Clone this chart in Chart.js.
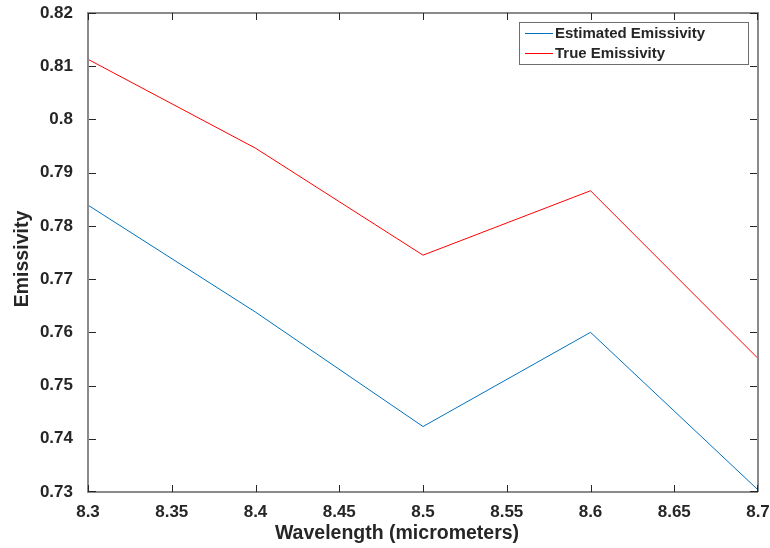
<!DOCTYPE html>
<html>
<head>
<meta charset="utf-8">
<script src="https://cdn.jsdelivr.net/npm/chart.js@4/dist/chart.umd.min.js"></script>
<style>
    html, body { margin: 0; padding: 0; background: #fff; }
    #wrap { width: 770px; height: 548px; }
</style>
</head>
<body>
<div id="wrap"><canvas id="emisChart" width="770" height="548"></canvas></div>
<script>
// wavelengths (micrometers) and emissivity values
const wavelengths = [8.3, 8.4, 8.5, 8.6, 8.7];
const estimatedEmissivity = [0.7839, 0.7638, 0.7423, 0.7600, 0.7304];
const trueEmissivity = [0.8113, 0.7946, 0.7745, 0.7866, 0.7551];
const seriesLabels = ['Estimated Emissivity', 'True Emissivity'];
const seriesColors = ['#0072BD', '#FF0000'];
const xTicks = [8.3, 8.35, 8.4, 8.45, 8.5, 8.55, 8.6, 8.65, 8.7];
const yTicks = [0.73, 0.74, 0.75, 0.76, 0.77, 0.78, 0.79, 0.8, 0.81, 0.82];
const xTitle = 'Wavelength (micrometers)';
const yTitle = 'Emissivity';

const FONT = 'Liberation Sans, Arial, Helvetica, sans-serif';
const AXIS_COLOR = '#8a8a8a';
const TICK_COLOR = '#262626';
const TEXT_COLOR = '#262626';

const toPoints = (vals) => wavelengths.map((w, i) => ({ x: w, y: vals[i] }));

// box around the axes plus inward tick marks (MATLAB style)
const axesBox = {
    id: 'axesBox',
    afterDatasetsDraw(chart) {
        const { ctx, chartArea: a, scales } = chart;
        const tl = 7;
        const L = Math.round(a.left), R = Math.round(a.right);
        const T = Math.round(a.top), B = Math.round(a.bottom);
        ctx.save();
        ctx.fillStyle = AXIS_COLOR;
        ctx.fillRect(L - 1, T - 1, R - L + 1, 2);
        ctx.fillRect(L - 1, B - 1, R - L + 1, 2);
        ctx.fillRect(L - 1, T - 1, 2, B - T + 1);
        ctx.fillRect(R - 1, T - 1, 2, B - T + 1);
        ctx.fillStyle = TICK_COLOR;
        xTicks.forEach(v => {
            const x = Math.min(Math.round(scales.x.getPixelForValue(v)), R - 1);
            ctx.fillRect(x, B - tl, 1, tl);
            ctx.fillRect(x, T, 1, tl);
        });
        yTicks.forEach(v => {
            const y = Math.min(Math.max(Math.round(scales.y.getPixelForValue(v)), T), B - 1);
            ctx.fillRect(L + 1, y, tl, 1);
            ctx.fillRect(R - 1 - tl, y, tl, 1);
        });
        ctx.restore();
    }
};

// axis titles, placed where the reference has them
const axisTitles = {
    id: 'axisTitles',
    afterDraw(chart) {
        const { ctx } = chart;
        ctx.save();
        ctx.fillStyle = TEXT_COLOR;
        ctx.font = 'bold 19.5px ' + FONT;
        ctx.textAlign = 'center';
        ctx.textBaseline = 'alphabetic';
        ctx.fillText(xTitle, 397, 539);
        ctx.translate(28, 259);
        ctx.rotate(-Math.PI / 2);
        ctx.fillText(yTitle, 0, 0);
        ctx.restore();
    }
};

// legend box in the upper right corner
const boxLegend = {
    id: 'boxLegend',
    afterDraw(chart) {
        const { ctx } = chart;
        const x0 = 519, y0 = 22, w = 229, h = 42;
        ctx.save();
        ctx.fillStyle = '#fff';
        ctx.fillRect(x0, y0, w, h);
        ctx.fillStyle = '#6e6e6e';
        ctx.fillRect(x0, y0, w, 1);
        ctx.fillRect(x0, y0 + h, w + 1, 1);
        ctx.fillRect(x0, y0, 1, h);
        ctx.fillRect(x0 + w, y0, 1, h);
        ctx.font = 'bold 15px ' + FONT;
        ctx.textBaseline = 'middle';
        seriesLabels.forEach((label, i) => {
            const y = y0 + 11 + i * 20;
            ctx.fillStyle = seriesColors[i];
            ctx.fillRect(x0 + 6, y, 28, 1);
            ctx.fillStyle = TEXT_COLOR;
            ctx.fillText(label, x0 + 36, y + 1);
        });
        ctx.restore();
    }
};

new Chart(document.getElementById('emisChart').getContext('2d'), {
    type: 'line',
    data: {
        datasets: [
            {
                label: seriesLabels[0],
                data: toPoints(estimatedEmissivity),
                borderColor: seriesColors[0],
                borderWidth: 1,
                pointRadius: 0,
                tension: 0
            },
            {
                label: seriesLabels[1],
                data: toPoints(trueEmissivity),
                borderColor: seriesColors[1],
                borderWidth: 1,
                pointRadius: 0,
                tension: 0
            }
        ]
    },
    options: {
        responsive: false,
        animation: false,
        layout: { padding: { top: 13, right: 12, left: 0, bottom: 0 } },
        plugins: {
            legend: { display: false },
            tooltip: { enabled: false }
        },
        scales: {
            x: {
                type: 'linear',
                min: 8.3,
                max: 8.7,
                afterBuildTicks: (s) => { s.ticks = xTicks.map(v => ({ value: v })); },
                afterFit: (s) => {
                    s.height = 56;
                    s.paddingLeft = 0;
                    s.paddingRight = 0;
                },
                grid: { display: false, drawTicks: false },
                border: { display: false },
                ticks: {
                    padding: 10,
                    color: TEXT_COLOR,
                    font: { family: FONT, size: 17, weight: 'bold' },
                    maxRotation: 0,
                    callback: (v) => String(Math.round(v * 100) / 100)
                },
                title: { display: false }
            },
            y: {
                min: 0.73,
                max: 0.82,
                afterBuildTicks: (s) => { s.ticks = yTicks.map(v => ({ value: v })); },
                afterFit: (s) => {
                    s.width = 88;
                    s.paddingTop = 0;
                    s.paddingBottom = 0;
                },
                grid: { display: false, drawTicks: false },
                border: { display: false },
                ticks: {
                    padding: 15,
                    color: TEXT_COLOR,
                    font: { family: FONT, size: 17, weight: 'bold' },
                    callback: (v) => String(Math.round(v * 100) / 100)
                },
                title: { display: false }
            }
        }
    },
    plugins: [axesBox, axisTitles, boxLegend]
});
</script>
</body>
</html>
